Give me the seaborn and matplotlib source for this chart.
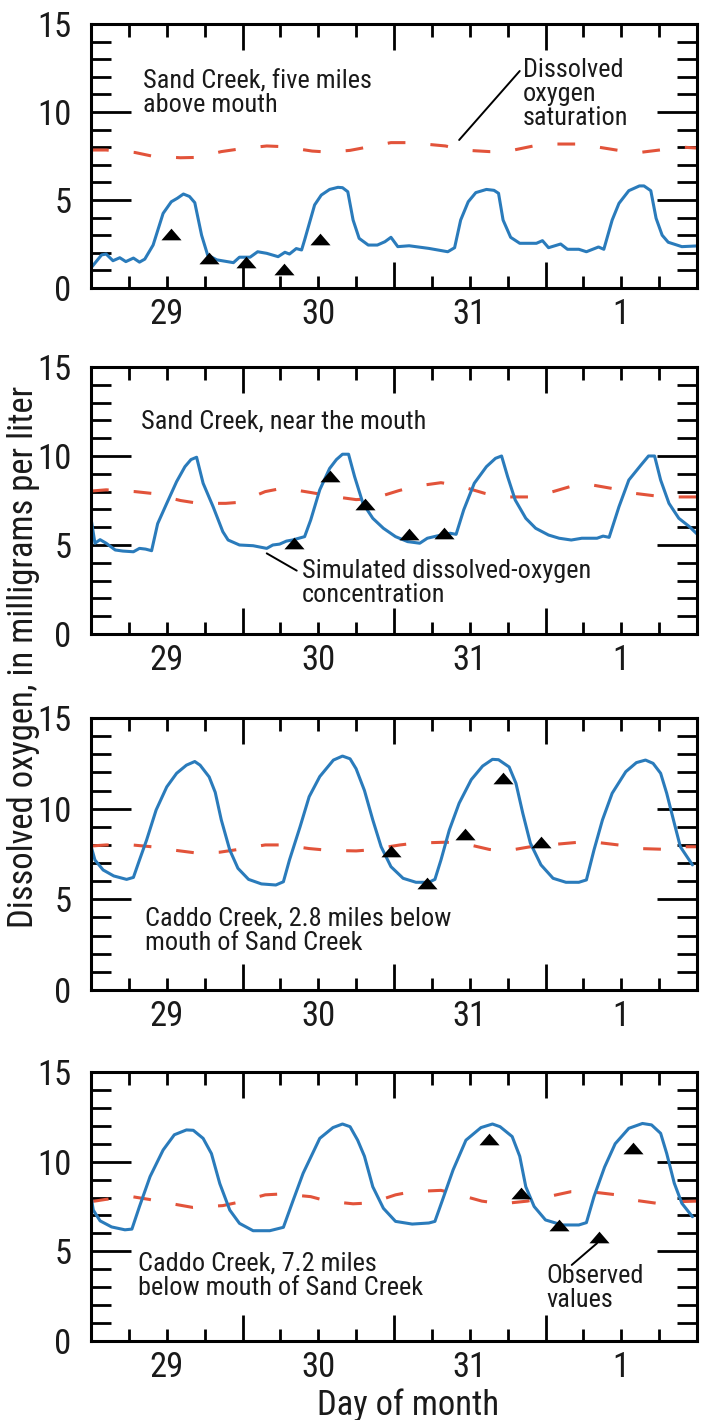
import matplotlib
matplotlib.use('Agg')
import matplotlib.pyplot as plt
from matplotlib import font_manager
import seaborn as sns

# time axis in days from midnight starting the 29th
day_labels = ['29', '30', '31', '1']

# --- Sand Creek, five miles above mouth
p1_sim_t = [0.00, 0.07, 0.10, 0.145, 0.19, 0.23, 0.28, 0.32, 0.355, 0.41, 0.476, 0.53, 0.57, 0.61,
            0.65, 0.685, 0.73, 0.77, 0.83, 0.94, 0.98, 1.05, 1.10, 1.16, 1.235, 1.28, 1.31, 1.355,
            1.39, 1.41, 1.476, 1.52, 1.575, 1.63, 1.66, 1.695, 1.73, 1.77, 1.83, 1.89, 1.94, 1.98,
            2.025, 2.10, 2.23, 2.355, 2.40, 2.44, 2.49, 2.54, 2.61, 2.66, 2.69, 2.72, 2.77, 2.83,
            2.94, 2.98, 3.02, 3.10, 3.145, 3.22, 3.27, 3.35, 3.385, 3.44, 3.485, 3.55, 3.62, 3.65,
            3.695, 3.73, 3.77, 3.81, 3.90, 4.00]
p1_sim_y = [1.14, 1.88, 1.93, 1.55, 1.72, 1.50, 1.70, 1.47, 1.64, 2.44, 4.24, 4.90, 5.10, 5.34,
            5.20, 4.85, 3.00, 1.87, 1.60, 1.44, 1.75, 1.75, 2.06, 1.97, 1.78, 2.03, 1.93, 2.24,
            2.16, 2.73, 4.72, 5.28, 5.60, 5.72, 5.70, 5.47, 3.86, 2.82, 2.44, 2.44, 2.63, 2.88,
            2.35, 2.40, 2.25, 2.06, 2.29, 3.86, 4.90, 5.42, 5.60, 5.55, 5.38, 3.86, 2.88, 2.54,
            2.54, 2.69, 2.29, 2.50, 2.20, 2.20, 2.06, 2.33, 2.20, 3.86, 4.81, 5.53, 5.80, 5.80,
            5.53, 3.96, 3.00, 2.60, 2.35, 2.39]
p1_sat_t = [0, 0.10, 0.29, 0.40, 0.59, 0.70, 0.86, 0.98, 1.16, 1.27, 1.46, 1.57, 1.71, 1.98,
            2.10, 2.34, 2.45, 2.63, 2.74, 2.92, 3.03, 3.21, 3.33, 3.51, 3.62, 3.81, 3.91, 4.0]
p1_sat_y = [7.84, 7.84, 7.70, 7.50, 7.40, 7.42, 7.75, 7.90, 8.07, 8.03, 7.78, 7.72, 7.82, 8.26,
            8.26, 8.07, 7.84, 7.75, 7.75, 8.07, 8.18, 8.18, 8.03, 7.78, 7.70, 7.90, 8.00, 7.95]
p1_obs_t = [0.525, 0.78, 1.02, 1.275, 1.51]
p1_obs_y = [3.07, 1.69, 1.50, 1.06, 2.77]

# --- Sand Creek, near the mouth
p2_sim_t = [0.00, 0.026, 0.06, 0.10, 0.16, 0.21, 0.28, 0.32, 0.36, 0.40, 0.44, 0.50, 0.565, 0.62,
            0.66, 0.697, 0.74, 0.806, 0.87, 0.905, 0.98, 1.07, 1.16, 1.20, 1.245, 1.29, 1.33, 1.41,
            1.45, 1.51, 1.575, 1.62, 1.66, 1.70, 1.74, 1.795, 1.86, 1.93, 2.01, 2.09, 2.17, 2.22,
            2.28, 2.37, 2.41, 2.46, 2.53, 2.61, 2.67, 2.71, 2.75, 2.80, 2.87, 2.935, 3.02, 3.09,
            3.17, 3.24, 3.34, 3.38, 3.42, 3.485, 3.55, 3.63, 3.68, 3.72, 3.76, 3.815, 3.88, 3.95, 4.00]
p2_sim_y = [6.50, 5.10, 5.30, 5.10, 4.72, 4.66, 4.62, 4.81, 4.77, 4.68, 6.20, 7.34, 8.56, 9.40,
            9.80, 9.93, 8.47, 7.15, 5.75, 5.28, 5.00, 4.96, 4.81, 5.00, 5.05, 5.22, 5.28, 5.47,
            6.40, 8.10, 9.30, 9.80, 10.10, 10.10, 8.84, 7.34, 6.50, 5.94, 5.47, 5.19, 5.10, 5.38,
            5.50, 5.66, 5.60, 6.97, 8.47, 9.40, 9.87, 10.00, 8.84, 7.53, 6.50, 5.94, 5.56, 5.38,
            5.28, 5.38, 5.38, 5.50, 5.43, 7.15, 8.65, 9.49, 10.00, 10.00, 8.65, 7.34, 6.50, 6.03, 5.62]
p2_sat_t = [0, 0.10, 0.29, 0.40, 0.59, 0.71, 0.89, 0.98, 1.15, 1.27, 1.45, 1.62, 1.75, 1.86,
            2.03, 2.14, 2.31, 2.42, 2.60, 2.71, 2.90, 3.01, 3.19, 3.29, 3.49, 3.59, 3.78, 3.89, 4.0]
p2_sat_y = [8.03, 8.10, 8.00, 7.90, 7.50, 7.34, 7.34, 7.40, 8.00, 8.20, 7.95, 7.70, 7.55, 7.60,
            8.05, 8.30, 8.50, 8.35, 7.90, 7.70, 7.70, 7.90, 8.35, 8.40, 8.10, 7.90, 7.70, 7.70, 7.70]
p2_obs_t = [1.34, 1.575, 1.81, 2.10, 2.33]
p2_obs_y = [5.10, 8.89, 7.30, 5.60, 5.68]

# --- Caddo Creek, 2.8 miles below mouth of Sand Creek
p3_sim_t = [0.00, 0.026, 0.08, 0.15, 0.235, 0.28, 0.32, 0.367, 0.43, 0.50, 0.565, 0.63, 0.685,
            0.72, 0.78, 0.82, 0.86, 0.916, 0.97, 1.04, 1.125, 1.22, 1.27, 1.31, 1.38, 1.44, 1.51,
            1.60, 1.66, 1.71, 1.75, 1.805, 1.86, 1.915, 1.98, 2.06, 2.145, 2.23, 2.27, 2.31,
            2.365, 2.43, 2.51, 2.585, 2.65, 2.69, 2.76, 2.805, 2.85, 2.90, 2.97, 3.05, 3.135,
            3.22, 3.27, 3.32, 3.376, 3.44, 3.53, 3.60, 3.66, 3.71, 3.76, 3.80, 3.85, 3.89, 3.97]
p3_sim_y = [7.94, 7.17, 6.62, 6.29, 6.10, 6.21, 7.17, 8.27, 9.93, 11.20, 11.95, 12.40, 12.60,
            12.40, 11.75, 10.90, 9.38, 7.72, 6.71, 6.10, 5.85, 5.79, 5.97, 7.17, 9.00, 10.66, 11.77,
            12.68, 12.90, 12.75, 12.20, 11.00, 9.38, 7.90, 6.80, 6.16, 5.94, 5.94, 6.10, 7.17,
            8.82, 10.30, 11.60, 12.35, 12.72, 12.70, 12.30, 11.40, 9.75, 8.10, 6.90, 6.16, 5.94,
            5.94, 6.07, 7.72, 9.38, 10.85, 12.04, 12.54, 12.68, 12.50, 11.95, 10.85, 9.20, 7.90, 6.90]
p3_sat_t = [0, 0.10, 0.27, 0.40, 0.56, 0.70, 0.85, 0.97, 1.15, 1.27, 1.44, 1.57, 1.75, 1.83,
            2.04, 2.14, 2.34, 2.45, 2.63, 2.74, 2.90, 3.02, 3.22, 3.33, 3.52, 3.62, 3.82, 3.91, 4.0]
p3_sat_y = [7.94, 8.00, 8.00, 7.90, 7.70, 7.55, 7.60, 7.75, 8.00, 8.00, 7.80, 7.70, 7.67, 7.72,
            8.00, 8.10, 8.15, 8.10, 7.75, 7.67, 7.90, 8.00, 8.15, 8.15, 7.96, 7.80, 7.75, 7.90, 7.90]
p3_obs_t = [1.98, 2.22, 2.47, 2.72, 2.97]
p3_obs_y = [7.69, 5.88, 8.60, 11.68, 8.18]

# --- Caddo Creek, 7.2 miles below mouth of Sand Creek
p4_sim_t = [0.00, 0.015, 0.06, 0.136, 0.224, 0.27, 0.32, 0.39, 0.476, 0.55, 0.63, 0.675, 0.74,
            0.795, 0.85, 0.916, 0.98, 1.07, 1.18, 1.27, 1.335, 1.40, 1.51, 1.597, 1.66, 1.71,
            1.76, 1.805, 1.86, 1.93, 2.01, 2.12, 2.23, 2.27, 2.32, 2.39, 2.475, 2.574, 2.65, 2.70,
            2.78, 2.83, 2.87, 2.925, 3.00, 3.11, 3.22, 3.27, 3.32, 3.39, 3.46, 3.55, 3.64, 3.70,
            3.76, 3.80, 3.85, 3.90, 3.97]
p4_sim_y = [8.09, 7.30, 6.70, 6.36, 6.20, 6.24, 7.50, 9.17, 10.65, 11.50, 11.77, 11.75, 11.30,
            10.45, 8.78, 7.30, 6.56, 6.15, 6.15, 6.34, 7.86, 9.35, 11.30, 11.90, 12.10, 11.95,
            11.20, 10.30, 8.60, 7.40, 6.67, 6.52, 6.58, 6.67, 7.86, 9.54, 11.20, 11.90, 12.10, 11.95,
            11.40, 10.30, 8.60, 7.50, 6.75, 6.47, 6.47, 6.60, 8.05, 9.70, 11.00, 11.86, 12.13, 12.05,
            11.58, 10.46, 8.80, 7.68, 6.93]
p4_sat_t = [0, 0.10, 0.27, 0.38, 0.57, 0.67, 0.87, 0.97, 1.15, 1.26, 1.45, 1.56, 1.73, 1.85,
            2.01, 2.12, 2.31, 2.41, 2.58, 2.71, 2.88, 2.99, 3.17, 3.29, 3.47, 3.58, 3.76, 3.88, 4.0]
p4_sat_y = [7.77, 7.90, 8.05, 7.90, 7.60, 7.45, 7.55, 7.73, 8.15, 8.20, 8.05, 7.80, 7.65, 7.70,
            8.15, 8.33, 8.40, 8.20, 7.80, 7.65, 7.80, 8.00, 8.33, 8.33, 8.15, 7.86, 7.65, 7.77, 7.80]
p4_obs_t = [2.625, 2.84, 3.09, 3.35, 3.58]
p4_obs_y = [11.25, 8.27, 6.48, 5.80, 10.74]

BLUE = '#2a7bbb'
RED = '#e2533a'
TRI = [(-1.0, -0.58), (1.0, -0.58), (0.0, 0.58)]

sns.set_style('white')


def pick_font():
    # prefer a narrow / condensed sans, the original uses a condensed face
    narrow = []
    for f in font_manager.fontManager.ttflist:
        cond = ('Narrow' in f.name or 'Condensed' in f.name
                or str(f.stretch) in ('condensed', 'semi-condensed', 'extra-condensed', '75', '87.5'))
        if cond and f.style == 'normal' and f.weight in (400, 'normal', 'regular'):
            narrow.append(f)
    order = ['Liberation Sans Narrow', 'Roboto Condensed', 'Open Sans Condensed',
             'Noto Sans', 'DejaVu Sans', 'Roboto', 'Open Sans']
    for name in order:
        for f in narrow:
            if f.name == name:
                return f.name, f.stretch
    return 'Liberation Sans', 'normal'


main_font, main_stretch = pick_font()
plt.rcParams['font.family'] = [main_font, 'DejaVu Sans']
plt.rcParams['font.stretch'] = main_stretch
plt.rcParams['text.color'] = '#1a1a1a'

fig = plt.figure(figsize=(7.07, 14.2), dpi=100)
W, H = 707.0, 1420.0
renderer = fig.canvas.get_renderer()


def size_for_width(text, base, target_px):
    probe = fig.text(0, 0, text, fontsize=base)
    w = probe.get_window_extent(renderer).width
    probe.remove()
    return base * target_px / w


ANN = size_for_width('Sand Creek, five miles', 18, 229)
BIG = size_for_width('Dissolved oxygen, in milligrams per liter', 22, 543)


def add_panel(top, bottom):
    return fig.add_axes([91 / W, 1 - bottom / H, (697 - 91) / W, (bottom - top) / H])


def draw_panel(ax, sim_t, sim_y, sat_t, sat_y, obs_t, obs_y):
    sns.lineplot(x=sat_t, y=sat_y, ax=ax, color=RED, linewidth=2.2,
                 linestyle=(0, (5.8, 8.2)), estimator=None, sort=False)
    sns.lineplot(x=sim_t, y=sim_y, ax=ax, color=BLUE, linewidth=2.2,
                 estimator=None, sort=False)
    sns.scatterplot(x=obs_t, y=obs_y, ax=ax, marker=TRI, s=210, color='black',
                    linewidth=0, zorder=5)

    ax.set_xlim(0, 4)
    ax.set_ylim(0, 15)
    minor_x = [i / 4 for i in range(1, 16) if i % 4 != 0]
    minor_lab = [day_labels[int(x)] if abs(x % 1 - 0.5) < 1e-9 else '' for x in minor_x]
    ax.set_xticks([1, 2, 3], ['', '', ''])
    ax.set_xticks(minor_x, minor_lab, minor=True)
    ax.set_yticks([0, 5, 10, 15], ['0', '5', '10', '15'])
    ax.set_yticks(range(16), minor=True)
    ax.tick_params(axis='both', which='both', direction='in', top=True, right=True,
                   bottom=True, left=True, width=2, color='black', labelcolor='#1a1a1a')
    ax.tick_params(axis='x', which='major', length=18.5)
    ax.tick_params(axis='x', which='minor', length=9, labelsize=BIG, pad=7)
    ax.tick_params(axis='y', which='major', length=29, labelsize=BIG, pad=14)
    ax.tick_params(axis='y', which='minor', length=14.5)
    ax.set_xlabel('')
    ax.set_ylabel('')
    for sp in ax.spines.values():
        sp.set_visible(True)
        sp.set_linewidth(2.2)
        sp.set_color('black')


def leader(ax, p0, p1):
    ax.annotate('', xy=p1, xytext=p0,
                arrowprops=dict(arrowstyle='-', color='black', lw=1.4,
                                shrinkA=0, shrinkB=0))


# multi-line notes are anchored at the baseline of their last line
ax1 = add_panel(24, 288)
draw_panel(ax1, p1_sim_t, p1_sim_y, p1_sat_t, p1_sat_y, p1_obs_t, p1_obs_y)
ax1.text(0.343, 10.0, 'Sand Creek, five miles\nabove mouth', fontsize=ANN,
         va='baseline', linespacing=1.0)
ax1.text(2.85, 9.26, 'Dissolved\noxygen\nsaturation', fontsize=ANN,
         va='baseline', linespacing=1.0)
leader(ax1, (2.83, 12.33), (2.43, 8.41))

ax2 = add_panel(367, 634)
draw_panel(ax2, p2_sim_t, p2_sim_y, p2_sat_t, p2_sat_y, p2_obs_t, p2_obs_y)
ax2.text(0.33, 11.52, 'Sand Creek, near the mouth', fontsize=ANN, va='baseline')
ax2.text(1.393, 1.80, 'Simulated dissolved-oxygen\nconcentration', fontsize=ANN,
         va='baseline', linespacing=1.0)
leader(ax2, (1.358, 3.56), (1.16, 4.53))

ax3 = add_panel(718, 990)
draw_panel(ax3, p3_sim_t, p3_sim_y, p3_sat_t, p3_sat_y, p3_obs_t, p3_obs_y)
ax3.text(0.356, 2.21, 'Caddo Creek, 2.8 miles below\nmouth of Sand Creek', fontsize=ANN,
         va='baseline', linespacing=1.0)

ax4 = add_panel(1072, 1341)
draw_panel(ax4, p4_sim_t, p4_sim_y, p4_sat_t, p4_sat_y, p4_obs_t, p4_obs_y)
ax4.text(0.31, 2.57, 'Caddo Creek, 7.2 miles\nbelow mouth of Sand Creek', fontsize=ANN,
         va='baseline', linespacing=1.0)
ax4.text(3.008, 1.91, 'Observed\nvalues', fontsize=ANN, va='baseline', linespacing=1.0)
leader(ax4, (3.173, 4.24), (3.34, 5.45))

fig.text(24 / W, 1 - 657 / H, 'Dissolved oxygen, in milligrams per liter', rotation=90,
         ha='center', va='center', fontsize=BIG)
fig.text(408 / W, 1 - 1405 / H, 'Day of month', ha='center', va='center', fontsize=BIG)

fig.savefig('out.png', dpi=100)
